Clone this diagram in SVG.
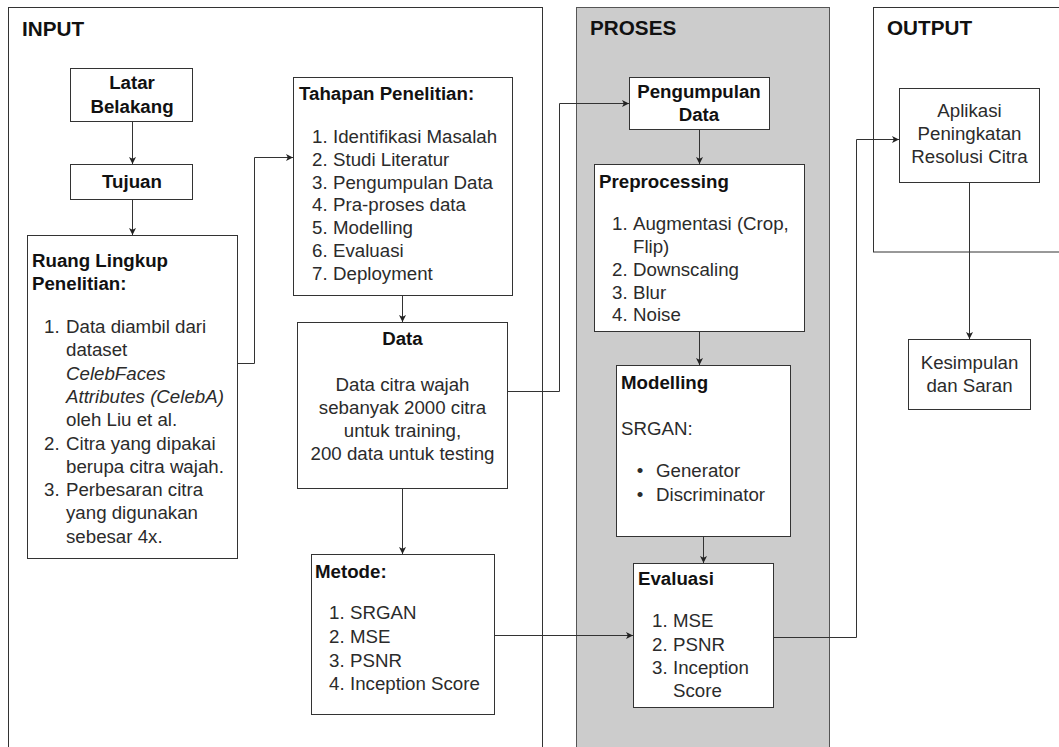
<svg xmlns="http://www.w3.org/2000/svg" width="1059" height="747" viewBox="0 0 1059 747">
<style>
.box{fill:#fff;stroke:#333;stroke-width:1}
.cont{fill:#fff;stroke:#333;stroke-width:1}
.gray{fill:#ccc;stroke:#555;stroke-width:1}
.edge{fill:none;stroke:#333;stroke-width:1}
text{font-family:"Liberation Sans",Arial,Helvetica,sans-serif;font-size:18.7px;fill:#2b2b2b}
.b{font-weight:bold;fill:#111}
.h{font-weight:bold;font-size:20.7px;fill:#111}
.c{text-anchor:middle}
.i{font-style:italic}
</style>
<defs>
<marker id="arr" markerUnits="userSpaceOnUse" markerWidth="8" markerHeight="8" refX="7" refY="3.5" orient="auto">
<path d="M0,0 L7,3.5 L0,7 L1.8,3.5 Z" fill="#222"/>
</marker>
</defs>

<g id="input-container">
<rect class="cont" x="8.5" y="7.5" width="534" height="760"/>
<text class="h" x="22" y="36">INPUT</text>
</g>
<g id="proses-container">
<rect class="gray" x="576.5" y="7.5" width="253" height="760"/>
<text class="h" x="590" y="35">PROSES</text>
</g>
<g id="output-container">
<rect class="cont" x="873.5" y="7.5" width="200" height="244.5"/>
<text class="h" x="887" y="35">OUTPUT</text>
</g>

<g id="connectors">
<path class="edge" d="M132.5 121.5 V164" marker-end="url(#arr)"/>
<path class="edge" d="M132.5 199.5 V235" marker-end="url(#arr)"/>
<path class="edge" d="M237.5 363.5 H254.5 V157.5 H293" marker-end="url(#arr)"/>
<path class="edge" d="M402.5 295.5 V322" marker-end="url(#arr)"/>
<path class="edge" d="M402.5 488.5 V554" marker-end="url(#arr)"/>
<path class="edge" d="M507.5 391.5 H559.5 V103.5 H629" marker-end="url(#arr)"/>
<path class="edge" d="M494.5 635.5 H633" marker-end="url(#arr)"/>
<path class="edge" d="M699.5 129.5 V164" marker-end="url(#arr)"/>
<path class="edge" d="M699.5 331.5 V365" marker-end="url(#arr)"/>
<path class="edge" d="M703.5 536.5 V563" marker-end="url(#arr)"/>
<path class="edge" d="M773.5 637.5 H856.5 V139.5 H899" marker-end="url(#arr)"/>
<path class="edge" d="M969.5 182.5 V339" marker-end="url(#arr)"/>
</g>

<g id="latar-belakang">
<rect class="box" x="70.5" y="68.5" width="122" height="53"/>
<text class="b c" x="132" y="89">Latar</text>
<text class="b c" x="132" y="113">Belakang</text>
</g>
<g id="tujuan">
<rect class="box" x="70.5" y="164.5" width="122" height="35"/>
<text class="b c" x="132" y="188">Tujuan</text>
</g>
<g id="ruang-lingkup">
<rect class="box" x="27.5" y="235.5" width="210" height="323"/>
<text class="b" x="32" y="267">Ruang Lingkup</text>
<text class="b" x="32" y="290">Penelitian:</text>
<text x="44" y="333">1.</text><text x="66" y="333">Data diambil dari</text>
<text x="66" y="356.3">dataset</text>
<text class="i" x="66" y="379.6">CelebFaces</text>
<text class="i" x="66" y="402.9">Attributes (CelebA)</text>
<text x="66" y="426.2">oleh Liu et al.</text>
<text x="44" y="449.5">2.</text><text x="66" y="449.5">Citra yang dipakai</text>
<text x="66" y="472.8">berupa citra wajah.</text>
<text x="44" y="496.1">3.</text><text x="66" y="496.1">Perbesaran citra</text>
<text x="66" y="519.4">yang digunakan</text>
<text x="66" y="542.7">sebesar 4x.</text>
</g>
<g id="tahapan-penelitian">
<rect class="box" x="293.5" y="77.5" width="219" height="218"/>
<text class="b" x="299" y="100">Tahapan Penelitian:</text>
<text x="312" y="143">1.</text><text x="333" y="143">Identifikasi Masalah</text>
<text x="312" y="165.8">2.</text><text x="333" y="165.8">Studi Literatur</text>
<text x="312" y="188.6">3.</text><text x="333" y="188.6">Pengumpulan Data</text>
<text x="312" y="211.4">4.</text><text x="333" y="211.4">Pra-proses data</text>
<text x="312" y="234.2">5.</text><text x="333" y="234.2">Modelling</text>
<text x="312" y="257">6.</text><text x="333" y="257">Evaluasi</text>
<text x="312" y="279.8">7.</text><text x="333" y="279.8">Deployment</text>
</g>
<g id="data">
<rect class="box" x="297.5" y="322.5" width="210" height="166"/>
<text class="b c" x="402.5" y="345">Data</text>
<text class="c" x="402.5" y="391">Data citra wajah</text>
<text class="c" x="402.5" y="414">sebanyak 2000 citra</text>
<text class="c" x="402.5" y="437">untuk training,</text>
<text class="c" x="402.5" y="460">200 data untuk testing</text>
</g>
<g id="metode">
<rect class="box" x="311.5" y="554.5" width="183" height="160"/>
<text class="b" x="315" y="578">Metode:</text>
<text x="329" y="619">1.</text><text x="350" y="619">SRGAN</text>
<text x="329" y="643">2.</text><text x="350" y="643">MSE</text>
<text x="329" y="667">3.</text><text x="350" y="667">PSNR</text>
<text x="329" y="690">4.</text><text x="350" y="690">Inception Score</text>
</g>
<g id="pengumpulan-data">
<rect class="box" x="629.5" y="77.5" width="140" height="52"/>
<text class="b c" x="699" y="98">Pengumpulan</text>
<text class="b c" x="699" y="121">Data</text>
</g>
<g id="preprocessing">
<rect class="box" x="594.5" y="164.5" width="210" height="167"/>
<text class="b" x="599" y="188">Preprocessing</text>
<text x="612" y="230">1.</text><text x="633" y="230">Augmentasi (Crop,</text>
<text x="633" y="253">Flip)</text>
<text x="612" y="276">2.</text><text x="633" y="276">Downscaling</text>
<text x="612" y="299">3.</text><text x="633" y="299">Blur</text>
<text x="612" y="321">4.</text><text x="633" y="321">Noise</text>
</g>
<g id="modelling">
<rect class="box" x="616.5" y="365.5" width="174" height="171"/>
<text class="b" x="621" y="389">Modelling</text>
<text x="621" y="435">SRGAN:</text>
<text class="c" x="640" y="477">•</text><text x="656" y="477">Generator</text>
<text class="c" x="640" y="501">•</text><text x="656" y="501">Discriminator</text>
</g>
<g id="evaluasi">
<rect class="box" x="633.5" y="563.5" width="140" height="144"/>
<text class="b" x="638" y="585">Evaluasi</text>
<text x="652" y="627">1.</text><text x="673" y="627">MSE</text>
<text x="652" y="651">2.</text><text x="673" y="651">PSNR</text>
<text x="652" y="674">3.</text><text x="673" y="674">Inception</text>
<text x="673" y="697">Score</text>
</g>
<g id="aplikasi">
<rect class="box" x="899.5" y="88.5" width="140" height="94"/>
<text class="c" x="969.5" y="117">Aplikasi</text>
<text class="c" x="969.5" y="140">Peningkatan</text>
<text class="c" x="969.5" y="163">Resolusi Citra</text>
</g>
<g id="kesimpulan">
<rect class="box" x="908.5" y="339.5" width="122" height="70"/>
<text class="c" x="969.5" y="369">Kesimpulan</text>
<text class="c" x="969.5" y="392">dan Saran</text>
</g>
</svg>
